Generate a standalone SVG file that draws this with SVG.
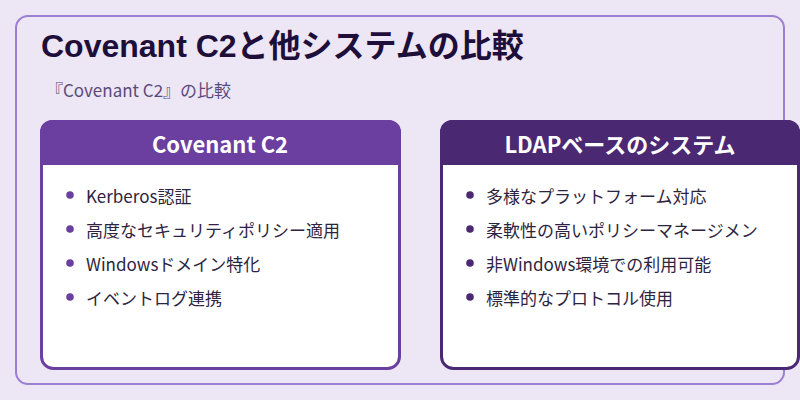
<svg xmlns="http://www.w3.org/2000/svg" width="800" height="400" viewBox="0 0 800 400">
<style>
.title{font-family:"Liberation Sans","Noto Sans CJK JP",sans-serif;font-weight:700;font-size:32px;fill:#1e0f3a}
.sub{font-family:"Noto Sans CJK JP",sans-serif;font-size:17px;fill:#5a4a7a}
.hdr{font-family:"Noto Sans CJK JP",sans-serif;font-weight:700;font-size:22px;fill:#ffffff}
.item{font-family:"Noto Sans CJK JP",sans-serif;font-size:17px;fill:#2d2440}
</style>
<rect x="0" y="0" width="800" height="400" fill="#ede6f5"/>
<rect x="16" y="16" width="768" height="368" rx="12" fill="#ede6f5" stroke="#9b7fd0" stroke-width="2"/>
<text class="title" x="41" y="57">Covenant C2と他システムの比較</text>
<text class="sub" x="46" y="97">『Covenant C2』の比較</text>
<g id="covenant">
<rect x="41.5" y="121.5" width="358" height="247" rx="12" fill="#ffffff" stroke="#6b3fa0" stroke-width="3"/>
<path d="M40,165 V132 A12,12 0 0 1 52,120 H389 A12,12 0 0 1 401,132 V165 Z" fill="#6b3fa0"/>
<text class="hdr" x="220" y="153" text-anchor="middle">Covenant C2</text>
<g fill="#6b3fa0">
<circle cx="70" cy="195" r="3.8"/>
<circle cx="70" cy="229" r="3.8"/>
<circle cx="70" cy="263" r="3.8"/>
<circle cx="70" cy="297" r="3.8"/>
</g>
<text class="item" x="86" y="203">Kerberos認証</text>
<text class="item" x="86" y="237">高度なセキュリティポリシー適用</text>
<text class="item" x="86" y="271">Windowsドメイン特化</text>
<text class="item" x="86" y="305">イベントログ連携</text>
</g>
<g id="ldap">
<rect x="441.5" y="121.5" width="357" height="247" rx="12" fill="#ffffff" stroke="#4a2872" stroke-width="3"/>
<path d="M440,165 V132 A12,12 0 0 1 452,120 H788 A12,12 0 0 1 800,132 V165 Z" fill="#4a2872"/>
<text class="hdr" x="620" y="153" text-anchor="middle">LDAPベースのシステム</text>
<g fill="#4a2872">
<circle cx="470" cy="195" r="3.8"/>
<circle cx="470" cy="229" r="3.8"/>
<circle cx="470" cy="263" r="3.8"/>
<circle cx="470" cy="297" r="3.8"/>
</g>
<text class="item" x="486" y="203">多様なプラットフォーム対応</text>
<text class="item" x="486" y="237">柔軟性の高いポリシーマネージメン</text>
<text class="item" x="486" y="271">非Windows環境での利用可能</text>
<text class="item" x="486" y="305">標準的なプロトコル使用</text>
</g>
<g id="connectors"/>
</svg>
